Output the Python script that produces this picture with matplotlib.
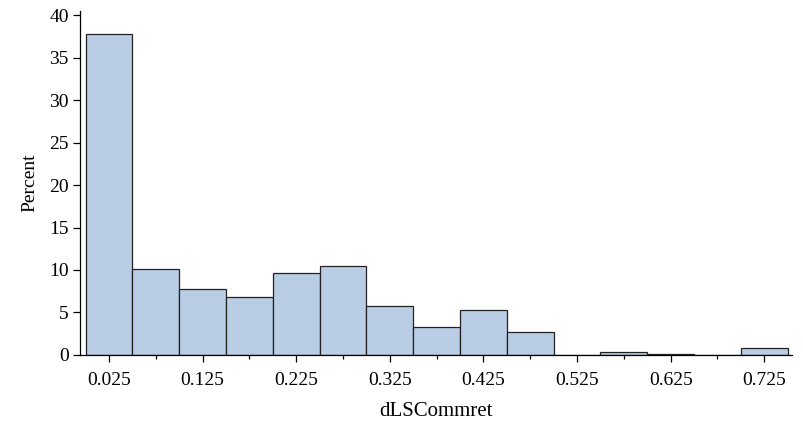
import matplotlib
matplotlib.use("Agg")
import matplotlib.pyplot as plt
import numpy as np

# bin edges (width 0.05) and percent per bin
bin_left = [0.00, 0.05, 0.10, 0.15, 0.20, 0.25, 0.30, 0.35, 0.40, 0.45,
            0.50, 0.55, 0.60, 0.65, 0.70]
percent = [37.8, 10.1, 7.7, 6.8, 9.6, 10.5, 5.8, 3.3, 5.3, 2.7,
           0.0, 0.35, 0.15, 0.0, 0.8]
tick_vals = [0.025, 0.125, 0.225, 0.325, 0.425, 0.525, 0.625, 0.725]
tick_labels = ["0.025", "0.125", "0.225", "0.325", "0.425", "0.525", "0.625", "0.725"]

plt.rcParams['font.family'] = ['Liberation Serif', 'DejaVu Serif']
plt.rcParams['font.size'] = 14

fig = plt.figure(figsize=(8.04, 4.26), dpi=100)
ax = fig.add_axes([0.0995, 0.167, 0.886, 0.807])

ax.bar(bin_left, percent, width=0.05, align='edge', color='#b9cde5',
       edgecolor='#222222', linewidth=0.9)

ax.set_xlim(-0.006, 0.755)
ax.set_ylim(0, 40.5)
ax.set_xticks(tick_vals)
ax.set_xticklabels(tick_labels)
ax.set_xticks(np.array(tick_vals[:-1]) + 0.05, minor=True)
ax.set_yticks(range(0, 41, 5))
ax.tick_params(which='major', direction='out', length=5, width=0.9, pad=7)
ax.tick_params(which='minor', direction='out', length=3, width=0.9)
ax.tick_params(axis='y', pad=3)

for s in ['top', 'right']:
    ax.spines[s].set_visible(False)
for s in ['left', 'bottom']:
    ax.spines[s].set_linewidth(0.9)

ax.set_xlabel("dLSCommret", fontsize=15, labelpad=10)
ax.set_ylabel("Percent", labelpad=8)

fig.savefig("out.png", dpi=100)
